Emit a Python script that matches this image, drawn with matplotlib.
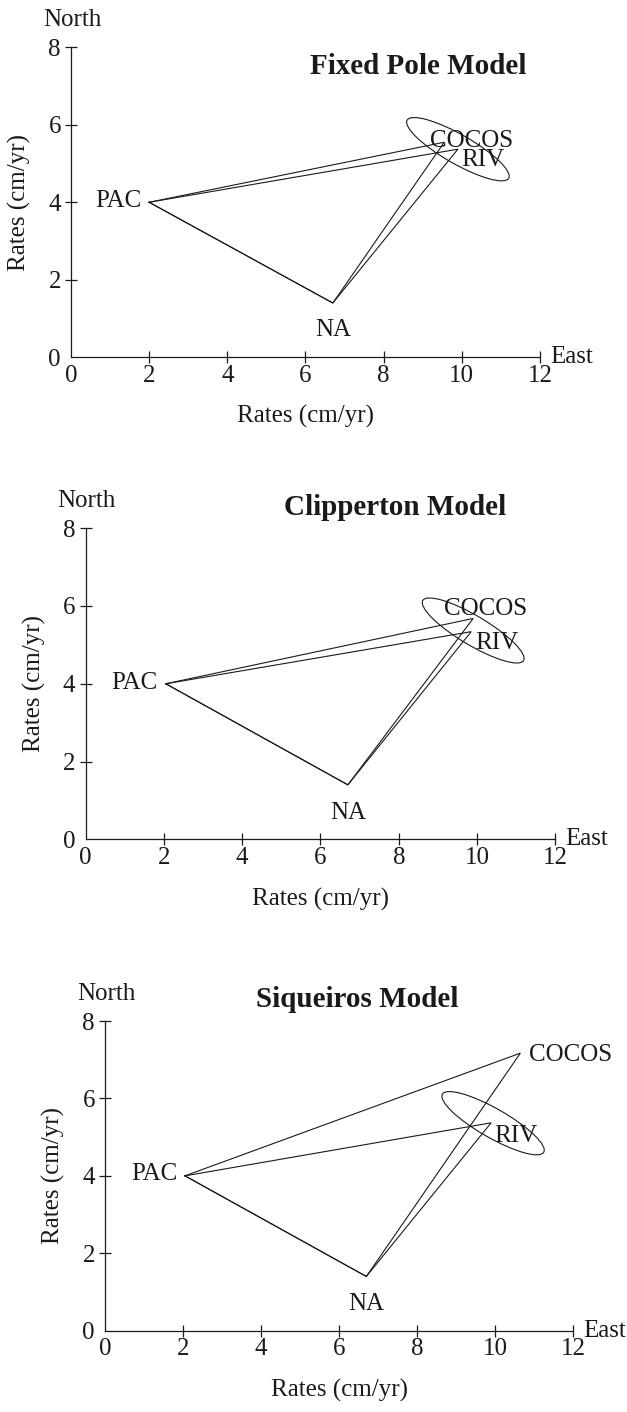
import matplotlib
matplotlib.use('Agg')
import matplotlib.pyplot as plt
from matplotlib.patches import Ellipse

plt.rcParams['font.family'] = ['Liberation Serif', 'DejaVu Serif']

# one entry per model, plate velocities as (East, North) in cm/yr
MODELS = ['Fixed Pole Model', 'Clipperton Model', 'Siqueiros Model']
PLATES = ['PAC', 'NA', 'COCOS', 'RIV']
PAC_E = [2.0, 2.05, 2.05]
PAC_N = [4.0, 4.0, 4.0]
NA_E = [6.7, 6.7, 6.7]
NA_N = [1.4, 1.4, 1.4]
COCOS_E = [9.55, 9.9, 10.65]
COCOS_N = [5.55, 5.68, 7.17]
RIV_E = [9.9, 9.85, 9.9]
RIV_N = [5.37, 5.34, 5.37]

# error ellipse around RIV
ELL_E = [9.9, 9.9, 9.95]
ELL_N = [5.37, 5.37, 5.36]
ELL_W = [3.0, 3.0, 3.0]
ELL_H = [0.75, 0.75, 0.75]
ELL_ANGLE = [-30, -31, -30]

X_TICKS = [0, 2, 4, 6, 8, 10, 12]
Y_TICKS = [0, 2, 4, 6, 8]

# layout only: axes rects (figure fraction), title anchor (axes fraction),
# plate label offsets in pixels (dx, dy, ha)
RECTS = [(0.1132, 0.747, 0.748, 0.2195),
         (0.1364, 0.4056, 0.7494, 0.2203),
         (0.1675, 0.0576, 0.7464, 0.2193)]
TITLE_POS = [(0.74, 0.914), (0.658, 1.043), (0.538, 1.046)]
LABEL_OFFSETS = [
  {'PAC': (-8, -5, 'right'), 'NA': (0, -33, 'center'), 'COCOS': (-14, -5, 'left'), 'RIV': (3, -17, 'left')},
  {'PAC': (-8, -5, 'right'), 'NA': (0, -34, 'center'), 'COCOS': (-29, 3, 'left'), 'RIV': (4, -17, 'left')},
  {'PAC': (-8, -4, 'right'), 'NA': (0, -34, 'center'), 'COCOS': (9, -8, 'left'), 'RIV': (3, -19, 'left')},
]

INK = '#1a1a1a'
FS = 18

fig = plt.figure(figsize=(6.27, 14.12), dpi=100)

for i, model in enumerate(MODELS):
  ax = fig.add_axes(RECTS[i])
  pts = {'PAC': (PAC_E[i], PAC_N[i]), 'NA': (NA_E[i], NA_N[i]),
         'COCOS': (COCOS_E[i], COCOS_N[i]), 'RIV': (RIV_E[i], RIV_N[i])}

  # two triangles sharing the PAC-NA edge
  for other in ('COCOS', 'RIV'):
    tri = [pts['PAC'], pts[other], pts['NA'], pts['PAC']]
    ax.plot([p[0] for p in tri], [p[1] for p in tri], color=INK, lw=0.8,
            solid_joinstyle='miter')

  ax.add_patch(Ellipse((ELL_E[i], ELL_N[i]), ELL_W[i], ELL_H[i], angle=ELL_ANGLE[i],
                       fill=False, edgecolor=INK, lw=0.8))

  for plate in PLATES:
    dx, dy, ha = LABEL_OFFSETS[i][plate]
    ax.annotate(plate, pts[plate], xytext=(dx, dy), textcoords='offset pixels',
                ha=ha, va='baseline', fontsize=FS, color=INK)

  ax.set_xlim(0, 12)
  ax.set_ylim(0, 8)
  ax.set_xticks(X_TICKS)
  ax.set_yticks(Y_TICKS)
  for s in ('top', 'right'):
    ax.spines[s].set_visible(False)
  for s in ('left', 'bottom'):
    ax.spines[s].set_linewidth(0.9)
    ax.spines[s].set_color(INK)
  ax.tick_params(direction='inout', length=8.5, width=0.9, color=INK,
                 labelsize=FS, labelcolor=INK)
  ax.tick_params(axis='y', pad=3)
  ax.tick_params(axis='x', pad=1)
  ax.xaxis.get_major_ticks()[0].tick1line.set_visible(False)
  ax.yaxis.get_major_ticks()[0].tick1line.set_visible(False)

  ax.set_xlabel('Rates (cm/yr)', fontsize=FS, color=INK)
  ax.set_ylabel('Rates (cm/yr)', fontsize=FS, color=INK)
  ax.xaxis.set_label_coords(0.5, -0.155)
  ax.yaxis.set_label_coords(-0.085, 0.5)

  ax.annotate('North', (0, 8), xytext=(1, 21), textcoords='offset pixels',
              ha='center', va='baseline', fontsize=FS, color=INK, annotation_clip=False)
  ax.annotate('East', (12, 0), xytext=(10, -6), textcoords='offset pixels',
              ha='left', va='baseline', fontsize=FS, color=INK, annotation_clip=False)
  tx, ty = TITLE_POS[i]
  ax.text(tx, ty, model, transform=ax.transAxes, ha='center', va='baseline',
          fontsize=21, fontweight='bold', color=INK)
  ax.patch.set_visible(False)

fig.savefig('out.png', dpi=100)
